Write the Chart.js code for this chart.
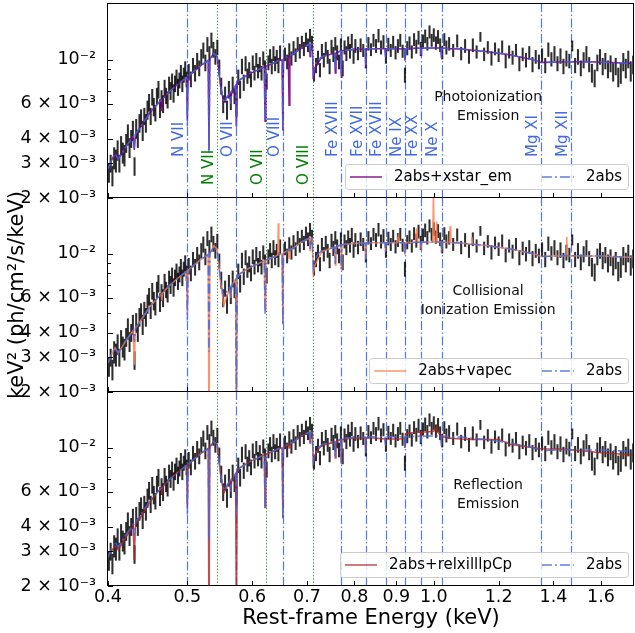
<!DOCTYPE html>
<html>
<head>
<meta charset="utf-8">
<script src="https://cdn.jsdelivr.net/npm/chart.js@4.4.1/dist/chart.umd.min.js"></script>
<style>
  body { margin: 0; background: #fff; }
  #wrap { position: relative; width: 635px; height: 633px; }
  #wrap canvas { position: absolute; left: 0; top: 0; }
</style>
</head>
<body>
<div id="wrap">
  <canvas id="panel1" width="635" height="633"></canvas>
  <canvas id="panel2" width="635" height="633"></canvas>
  <canvas id="panel3" width="635" height="633"></canvas>
</div>
<script>
// spectrum bins (keV), flux and error in units of 1e-4 keV^2 ph/cm^2/s/keV
const energy = [
  0.401,0.403,0.405,0.407,0.409,0.411,0.413,0.415,0.417,0.419,
  0.421,0.423,0.425,0.427,0.429,0.431,0.433,0.435,0.437,0.439,
  0.441,0.443,0.445,0.447,0.449,0.451,0.453,0.455,0.457,0.459,
  0.461,0.463,0.465,0.467,0.469,0.471,0.473,0.475,0.477,0.479,
  0.481,0.483,0.485,0.487,0.489,0.491,0.493,0.495,0.497,0.499,
  0.502,0.505,0.508,0.511,0.514,0.517,0.520,0.523,0.526,0.529,
  0.532,0.535,0.538,0.541,0.544,0.547,0.550,0.553,0.556,0.559,
  0.562,0.565,0.568,0.571,0.574,0.577,0.580,0.583,0.586,0.589,
  0.592,0.595,0.598,0.601,0.604,0.607,0.610,0.613,0.616,0.619,
  0.622,0.625,0.628,0.631,0.634,0.637,0.640,0.643,0.646,0.649,
  0.654,0.658,0.662,0.666,0.670,0.674,0.678,0.682,0.686,0.690,
  0.694,0.698,0.702,0.706,0.710,0.714,0.718,0.722,0.726,0.730,
  0.734,0.738,0.742,0.746,0.750,0.754,0.758,0.762,0.766,0.770,
  0.774,0.778,0.782,0.786,0.790,0.794,0.798,0.802,
  0.808,0.814,0.820,0.826,0.832,0.838,0.844,0.850,0.856,0.862,
  0.868,0.874,0.880,0.886,0.892,0.898,0.904,0.910,0.916,0.922,
  0.928,0.934,0.940,0.946,0.952,0.958,0.964,0.970,0.976,0.982,
  0.988,0.994,1.000,1.006,1.012,1.018,1.024,1.030,1.036,
  1.044,1.056,1.068,1.080,1.092,1.104,1.116,1.128,1.140,1.152,
  1.164,1.176,1.188,1.200,1.212,1.224,1.236,1.248,1.260,1.272,
  1.284,1.296,1.308,1.320,1.332,1.344,1.356,1.368,1.380,1.392,
  1.404,1.416,1.428,1.440,1.452,1.464,1.476,1.488,1.500,1.512,
  1.524,1.536,1.548,1.560,1.572,1.584,1.596,1.608,1.620,1.632,
  1.644,1.656,1.668,1.680,1.692,1.704,1.716,1.728,1.740,1.752
];
const flux = [
  27,30,26,32,31,35,30,37,34,33,
  38,42,36,40,44,29,45,40,48,51,
  44,52,48,56,61,52,65,58,54,66,
  71,57,64,60,72,66,63,75,70,78,
  68,76,82,73,79,86,76,84,90,80,
  87,80,94,86,99,91,104,112,97,120,
  108,126,113,104,116,92,74,60,67,56,
  71,62,75,66,58,82,71,93,77,96,
  83,89,80,97,86,100,88,95,86,102,
  91,78,97,105,93,108,96,104,94,109,
  87,107,98,112,102,115,106,121,111,123,
  114,127,119,133,122,85,94,103,89,111,
  100,114,104,93,117,107,121,109,98,119,
  91,116,108,122,111,125,105,118,
  108,119,112,99,121,113,126,118,133,116,
  124,104,120,112,123,109,118,126,111,84,
  115,122,110,127,117,130,114,125,132,121,
  139,126,134,122,131,119,109,127,116,
  121,112,125,108,118,104,119,110,131,107,
  116,102,114,106,117,99,110,103,112,96,
  107,100,109,95,104,98,106,94,113,101,
  108,96,105,93,102,99,118,94,104,91,
  100,108,95,86,81,97,104,93,99,90,
  96,87,93,82,86,98,91,101,88,95
];
const fluxErr = [
  3,3,3,4,4,4,3,4,4,4,
  4,5,4,4,5,3,5,4,5,5,
  5,5,5,6,6,5,6,6,5,6,
  7,6,6,6,7,6,6,7,7,7,
  7,7,7,7,7,8,7,7,8,7,
  8,7,8,8,9,8,9,10,9,10,
  9,11,10,9,10,8,7,6,6,6,
  7,6,7,6,6,7,7,8,7,8,
  7,8,7,8,7,8,7,8,7,8,
  8,7,8,8,8,9,8,8,8,9,
  7,8,8,9,8,9,8,9,9,9,
  9,10,9,10,10,7,8,8,7,9,
  8,9,8,8,9,9,9,9,8,9,
  8,9,9,9,9,10,9,9,
  8,9,8,8,9,8,9,9,10,9,
  9,8,9,8,9,8,9,9,8,7,
  9,9,8,9,9,10,9,9,10,9,
  10,9,10,9,10,9,8,9,9,
  9,8,9,8,9,8,9,8,7,8,
  8,8,8,8,8,8,8,8,8,8,
  8,8,8,8,8,8,8,8,9,8,
  9,8,9,8,9,8,7,8,9,8,
  9,9,8,9,8,9,9,9,9,9,
  9,9,9,9,10,10,10,10,10,10
];

// model curves on a shared energy grid (same 1e-4 units)
const modelE = [
  0.400,0.404,0.408,0.4117,0.420,0.4293,0.4307,0.4321,0.440,0.450,
  0.460,0.4644,0.4654,0.4664,0.475,0.488,0.4989,0.500,0.5011,0.510,
  0.520,0.5301,0.5314,0.5327,0.5386,0.5438,0.5489,0.554,0.5594,0.5635,
  0.5650,0.5665,0.5726,0.574,0.5754,0.580,0.597,0.610,0.6207,0.6221,
  0.6235,0.640,0.6448,0.6458,0.6468,0.6528,0.654,0.6552,0.6641,0.6656,
  0.6671,0.6751,0.690,0.7012,0.7048,0.706,0.7072,0.7105,0.7125,0.716,
  0.722,0.730,0.7565,0.758,0.7595,0.7655,0.7698,0.771,0.7722,0.800,
  0.8248,0.826,0.8272,0.850,0.8718,0.873,0.8742,0.902,0.905,0.908,
  0.9208,0.922,0.9232,0.950,0.953,0.956,0.9638,0.965,0.9662,0.997,
  0.999,1.001,1.006,1.008,1.010,1.0205,1.022,1.0235,1.045,1.047,
  1.049,1.081,1.111,1.113,1.115,1.166,1.200,1.242,1.331,1.352,
  1.4515,1.4535,1.4555,1.600,1.760
];
const abs2Fit1 = [
  28,31,33.5,31.5,36,41,36,42,47,54,
  60,62.5,62.5,63.5,69,76,81.5,46,82.5,88,
  94,99.5,34,101,108,104,74,61,65,68,
  60,69.5,74,46,76,79.5,85.5,89,92.5,49,
  93,97,99,99,99.5,100,44,101,104.5,104.5,
  105,108,115,119,120,106,120,120,85,94,
  100,104,108,89,108.5,110,111,84,111.5,113,
  113.5,94,114,114,114,103,114,114,114,114,
  114,99,114,114.5,114.5,114.5,114.5,106,114.5,115,
  115,115,115,115,115,115,102,115,114,114,
  114,113.5,112,112,112,110,108,106,99.5,97,
  98,98,98,97.5,96
];
const abs2Fit2 = [
  28,31,33.5,31.5,36,41,36,42,47,54,
  60,62.5,62.5,63.5,69,76,81.5,46,82.5,88,
  94,99.5,32,101,108,104,74,61,65,68,
  60,69.5,74,15,76,79.5,85.5,89,92.5,49,
  93,97,99,99,99.5,100,44,101,104.5,104.5,
  105,108,115,119,120,106,120,120,85,94,
  100,104,108,89,108.5,110,111,84,111.5,113,
  113.5,94,114,114,114,103,114,114,114,114,
  114,99,114,114.5,114.5,114.5,114.5,106,114.5,115,
  115,115,115,115,115,115,102,115,114,114,
  114,113.5,112,112,112,110,108,106,99.5,97,
  98,98,98,97.5,96
];
const xstarEm = [
  28,31,33.5,31.5,36,41,35,42,47,54,
  60,62.5,55,63.5,69,76,81.5,50,82.5,88,
  94,99.5,35,101,108,104,74,61,65,68,
  60,69.5,74,46,76,79.5,85.5,89,92.5,49,
  93,97,99,99,99.5,100,44,101,104.5,59,
  105,108,115,119,120,104,120,120,80,90,
  96,104,108,86,108.5,110,111,82,111.5,113,
  113.5,92,114,114,114,103,114,114,114,114,
  114,99,114,114.5,114.5,114.5,114.5,106,114.5,115,
  115,115,115,115,115,115,102,115,114,114,
  114,113.5,112,112,112,110,108,106,99.5,97,
  98,98,98,97.5,96
];
const vapec = [
  28,31,33.5,31.5,36,41,27.5,42,47,54,
  60,62.5,58,63.5,69,76,81.5,50,82.5,88,
  94,99.5,10,101,110,106,72,55,62,66,
  60,69.5,74,12,76,79.5,85.5,89,92.5,52,
  93,97,99,143,99.5,100,44,101,104.5,95,
  105,108,115,119,120,104,120,120,80,88,
  94,103,108,88,108.5,110,111,84,111.5,113,
  113.5,94,114,114,114,103,114,114,123,114,
  114,99,114,114.5,135,114.5,114.5,106,114.5,115,
  205,115,115,146,115,115,102,115,114,138,
  114,113.5,112,122,112,110,108,106,99.5,97,
  98,122,98,97.5,96
];
const relxill = [
  28.5,30,32,30.5,35,40,27,41,45.5,53,
  60,62.5,58,63.5,69,76,81.5,50,82.5,88,
  94,99.5,10,101,108,104,74,59,64,68,
  60,69.5,74,12,76,79.5,85.5,89,92.5,50,
  93,97,99,99,99.5,100,44,101,104.5,100,
  105,108,115,119,120,106,120,120,84,92,
  98,103,107,89,107.5,109,110,84,110.5,112,
  112.5,94,113,112,111,103,111,111,111,111,
  112,100,118,120,120,120,120,112,120,121,
  122,122,125,128,121,115,104,114,112,112,
  112,111,110.5,110.5,110.5,110.5,110.5,104,100,99,
  98.5,98.5,98.5,94.5,92
];

// line identifications
const blueLineE = [0.500, 0.574, 0.654, 0.771, 0.826, 0.873, 0.922, 0.965, 1.022, 1.352, 1.472];
const blueLineNames = ['N VII', 'O VII', 'O VIII', 'Fe XVIII', 'Fe XVII', 'Fe XVIII', 'Ne IX', 'Fe XX', 'Ne X', 'Mg XI', 'Mg XII'];
const greenLineE = [0.544, 0.624, 0.711];
const greenLineNames = ['N VII', 'O VII', 'O VIII'];

const xTicks = [0.4, 0.5, 0.6, 0.7, 0.8, 0.9, 1.0, 1.2, 1.4, 1.6];
const xTickLabels = ['0.4', '0.5', '0.6', '0.7', '0.8', '0.9', '1.0', '1.2', '1.4', '1.6'];
const yTicks = [0.002, 0.003, 0.004, 0.006, 0.01];
const yTickLabels = ['2 × 10⁻³', '3 × 10⁻³', '4 × 10⁻³', '6 × 10⁻³', '10⁻²'];
const yMinorTicks = [0.005, 0.007, 0.008, 0.009];

const UNIT = 1e-4;
const FONT = '"DejaVu Sans", sans-serif';
Chart.defaults.font.family = FONT;
Chart.defaults.color = '#000';

const panels = [
  { id: 'panel1', top: 4, bottom: 198, model: xstarEm, abs: abs2Fit1, label: '2abs+xstar_em',
    color: 'rgba(128,0,128,0.9)', note: ['Photoionization', 'Emission'], lineLabels: true },
  { id: 'panel2', top: 198, bottom: 392, model: vapec, abs: abs2Fit2, label: '2abs+vapec',
    color: 'rgba(255,127,80,0.85)', note: ['Collisional', 'Ionization Emission'], yTitle: true },
  { id: 'panel3', top: 392, bottom: 586, model: relxill, abs: abs2Fit1, label: '2abs+relxilllpCp',
    color: 'rgba(178,34,34,0.8)', note: ['Reflection', 'Emission'], xLabels: true }
];

const panelDeco = {
  id: 'panelDeco',
  beforeDatasetsDraw(chart) {
    const { ctx, chartArea: a, scales: { x } } = chart;
    ctx.save();
    ctx.beginPath();
    ctx.rect(a.left, a.top, a.right - a.left, a.bottom - a.top);
    ctx.clip();
    ctx.lineWidth = 1.2;
    ctx.strokeStyle = 'rgba(65,105,225,0.9)';
    ctx.setLineDash([9, 2.5, 1.5, 2.5]);
    blueLineE.forEach(e => {
      const px = Math.round(x.getPixelForValue(e)) + 0.5;
      ctx.beginPath(); ctx.moveTo(px, a.bottom); ctx.lineTo(px, a.top); ctx.stroke();
    });
    ctx.lineWidth = 1;
    ctx.strokeStyle = 'rgba(0,128,0,0.85)';
    ctx.setLineDash([1.2, 2]);
    greenLineE.forEach(e => {
      const px = Math.round(x.getPixelForValue(e)) + 0.5;
      ctx.beginPath(); ctx.moveTo(px, a.bottom); ctx.lineTo(px, a.top); ctx.stroke();
    });
    ctx.restore();
  },
  afterDatasetsDraw(chart, args, opts) {
    const { ctx, chartArea: a, scales: { x, y } } = chart;
    ctx.save();

    // rotated line names (top panel only)
    if (opts.lineLabels) {
      ctx.font = '15px ' + FONT;
      ctx.textAlign = 'left';
      ctx.textBaseline = 'middle';
      const put = (list, names, color, v) => {
        ctx.fillStyle = color;
        list.forEach((e, i) => {
          ctx.save();
          ctx.translate(x.getPixelForValue(e) - 8, y.getPixelForValue(v));
          ctx.rotate(-Math.PI / 2);
          ctx.fillText(names[i], 0, 0);
          ctx.restore();
        });
      };
      put(blueLineE, blueLineNames, 'royalblue', 0.00323);
      put(greenLineE, greenLineNames, 'green', 0.00233);
    }

    // panel caption
    ctx.font = '14px ' + FONT;
    ctx.fillStyle = '#111';
    ctx.textAlign = 'center';
    ctx.textBaseline = 'middle';
    const tx = x.getPixelForValue(1.165), ty = y.getPixelForValue(0.0058);
    opts.note.forEach((t, i) => ctx.fillText(t, tx, ty + (i - (opts.note.length - 1) / 2) * 19.5));

    // legend box in the lower right corner
    const items = chart.data.datasets.filter(d => d.type === 'line');
    ctx.font = '15px ' + FONT;
    const sample = 32, gap = 12, colGap = 30, padL = 5, padR = 6, h = 25;
    let w = padL + padR + colGap * (items.length - 1);
    items.forEach(d => { w += sample + gap + ctx.measureText(d.label).width; });
    const bx = a.right - 6 - w, by = a.bottom - 9 - h;
    ctx.fillStyle = 'rgba(255,255,255,0.8)';
    ctx.strokeStyle = '#cccccc';
    ctx.lineWidth = 1;
    ctx.beginPath();
    ctx.roundRect(Math.round(bx) + 0.5, Math.round(by) + 0.5, Math.round(w), h, 3);
    ctx.fill(); ctx.stroke();
    let cx = bx + padL;
    const cy = by + h / 2 + 0.5;
    items.forEach(d => {
      ctx.strokeStyle = d.borderColor;
      ctx.lineWidth = d.borderWidth;
      ctx.setLineDash(d.borderDash || []);
      ctx.beginPath(); ctx.moveTo(cx, cy); ctx.lineTo(cx + sample, cy); ctx.stroke();
      ctx.setLineDash([]);
      cx += sample + gap;
      ctx.fillStyle = '#000';
      ctx.textAlign = 'left';
      ctx.fillText(d.label, cx, cy);
      cx += ctx.measureText(d.label).width + colGap;
    });

    // frame and inward ticks
    ctx.strokeStyle = '#000';
    ctx.lineWidth = 1;
    ctx.setLineDash([]);
    ctx.strokeRect(a.left - 0.5, a.top - 0.5, a.right - a.left, a.bottom - a.top);
    ctx.beginPath();
    xTicks.forEach(v => {
      const px = Math.round(x.getPixelForValue(v)) + 0.5;
      ctx.moveTo(px, a.bottom); ctx.lineTo(px, a.bottom - 5);
    });
    yTicks.forEach(v => {
      const py = Math.round(y.getPixelForValue(v)) + 0.5;
      ctx.moveTo(a.left, py); ctx.lineTo(a.left + 5, py);
    });
    yMinorTicks.forEach(v => {
      const py = Math.round(y.getPixelForValue(v)) + 0.5;
      ctx.moveTo(a.left, py); ctx.lineTo(a.left + 3, py);
    });
    ctx.stroke();
    ctx.restore();
  }
};

panels.forEach(p => {
  const bars = energy.map((e, i) => ({ x: e, y: [(flux[i] - fluxErr[i]) * UNIT, (flux[i] + fluxErr[i]) * UNIT] }));
  const curve = vals => modelE.map((e, i) => ({ x: e, y: vals[i] * UNIT }));

  new Chart(document.getElementById(p.id), {
    type: 'line',
    data: {
      datasets: [
        { type: 'bar', label: 'data', data: bars, backgroundColor: 'rgba(0,0,0,0.82)',
          barThickness: 1.4, borderWidth: 0, clip: 0, order: 3 },
        { type: 'line', label: p.label, data: curve(p.model), borderColor: p.color,
          borderWidth: 1.5, pointRadius: 0, tension: 0, clip: 0, order: 2 },
        { type: 'line', label: '2abs', data: curve(p.abs), borderColor: 'rgba(65,105,225,0.85)',
          borderDash: [10, 3, 2, 3], borderWidth: 1.5, pointRadius: 0, tension: 0, clip: 0, order: 1 }
      ]
    },
    options: {
      responsive: false,
      devicePixelRatio: 1,
      animation: false,
      events: [],
      layout: { padding: { left: 0, right: 1, top: p.top, bottom: 0 } },
      plugins: {
        legend: { display: false },
        tooltip: { enabled: false },
        panelDeco: { note: p.note, lineLabels: !!p.lineLabels }
      },
      scales: {
        x: {
          type: 'logarithmic', min: 0.4, max: 1.756, offset: false,
          afterBuildTicks: s => { s.ticks = xTicks.map(v => ({ value: v })); },
          afterFit: s => { s.height = 633 - p.bottom; s.paddingLeft = 0; s.paddingRight = 0; },
          grid: { display: false }, border: { display: false },
          ticks: { display: !!p.xLabels, autoSkip: false, maxRotation: 0, padding: -7,
                   font: { size: 17.5 }, callback: (v, i) => xTickLabels[i] },
          title: { display: !!p.xLabels, text: 'Rest-frame Energy (keV)',
                   font: { size: 21, lineHeight: 1 }, padding: { top: 0, bottom: 4 } }
        },
        y: {
          type: 'logarithmic', min: 0.002, max: 0.0192,
          afterBuildTicks: s => { s.ticks = yTicks.map(v => ({ value: v })); },
          afterFit: s => { s.width = 108; s.paddingTop = 0; s.paddingBottom = 0; },
          grid: { display: false }, border: { display: false },
          ticks: { autoSkip: false, padding: 4, font: { size: 17.5 }, callback: (v, i) => yTickLabels[i] },
          title: { display: !!p.yTitle, text: 'keV² (ph/cm²/s/keV)',
                   font: { size: 21, lineHeight: 1 }, padding: { top: 7.5, bottom: 0 } }
        }
      }
    },
    plugins: [panelDeco]
  });
});
</script>
</body>
</html>
